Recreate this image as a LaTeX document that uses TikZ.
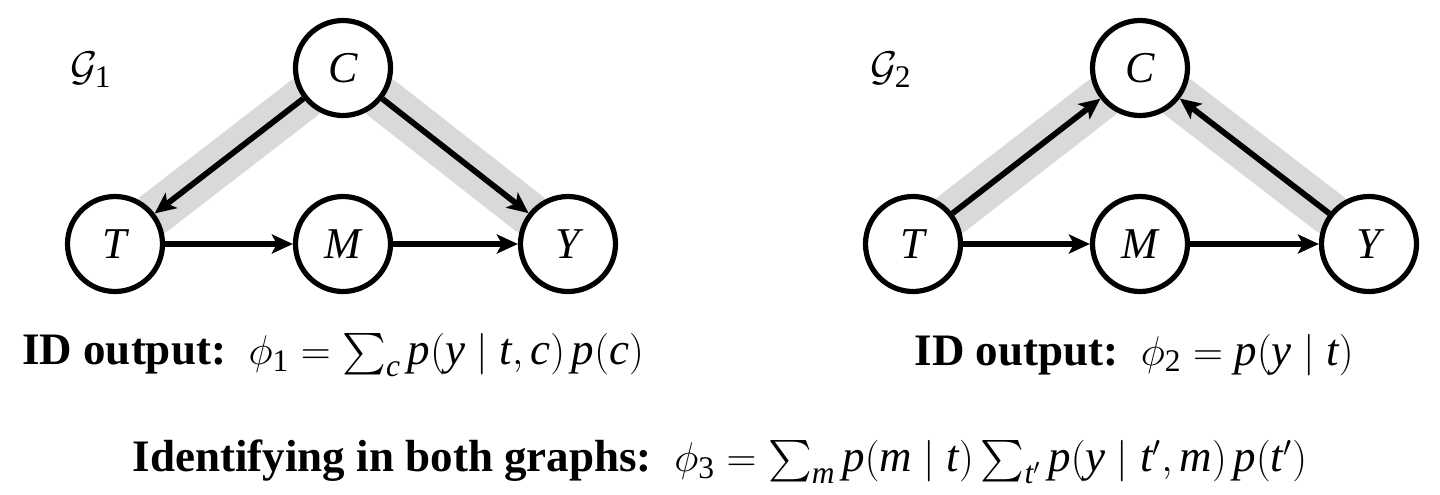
\documentclass[tikz,border=0pt]{standalone}
\usepackage{amsmath}
\usepackage[no-math]{fontspec}
\setmainfont{Liberation Serif}[BoldFont={Liberation Serif Bold}]
\newfontfamily\timesit{Liberation Serif Italic}
\usetikzlibrary{arrows.meta}
\pgfdeclarelayer{background}
\pgfsetlayers{background,main}
\newcommand{\vv}[1]{\text{\timesit #1}}
\begin{document}
\begin{tikzpicture}[x=0.5pt,y=-0.5pt,
  var/.style={circle,draw=black,fill=white,line width=2.6pt,minimum size=47.5pt,inner sep=0pt,font=\fontsize{22}{26}\selectfont},
  edge/.style={line width=2.9pt,-{Stealth[length=10.5pt,width=9.5pt,inset=2.5pt]}},
  band/.style={line width=22pt,line cap=round,draw=black!15},
  lbl/.style={font=\fontsize{22.5}{26}\selectfont,inner sep=0pt}]
\useasboundingbox (0,0) rectangle (1440,494);
% graph 1
\node[var] (C1) at (343,68) {\timesit C};
\node[var] (T1) at (115,244) {\timesit T};
\node[var] (M1) at (343,244) {\timesit M};
\node[var] (Y1) at (568,244) {\timesit Y};
\node[lbl] (G1) at (91,70) {$\mathcal{G}_{\text{1}}$};
% graph 2
\node[var] (C2) at (1140,68) {\timesit C};
\node[var] (T2) at (913,244) {\timesit T};
\node[var] (M2) at (1140,244) {\timesit M};
\node[var] (Y2) at (1369,244) {\timesit Y};
\node[lbl] (G2) at (891,70) {$\mathcal{G}_{\text{2}}$};
\begin{pgfonlayer}{background}
\draw[band] (C1) -- (T1);
\draw[band] (C1) -- (Y1);
\draw[band] (T2) -- (C2);
\draw[band] (Y2) -- (C2);
\end{pgfonlayer}
\draw[edge] (C1) -- (T1);
\draw[edge] (C1) -- (Y1);
\draw[edge] (T1) -- (M1);
\draw[edge] (M1) -- (Y1);
\draw[edge] (T2) -- (C2);
\draw[edge] (Y2) -- (C2);
\draw[edge] (T2) -- (M2);
\draw[edge] (M2) -- (Y2);
% texts
\node[lbl] (o1) at (333,355) {\textbf{ID output:}\ \ $\phi_{\text{1}} = \textstyle\sum_{\vv{c}} \vv{p}(\vv{y} \mid \vv{t}, \vv{c})\, \vv{p}(\vv{c})$};
\node[lbl] (o2) at (1134,355) {\textbf{ID output:}\ \ $\phi_{\text{2}} = \vv{p}(\vv{y} \mid \vv{t})$};
\node[lbl] (o3) at (720,462) {\textbf{Identifying in both graphs:}\ \ $\phi_{\text{3}} = \textstyle\sum_{\vv{m}} \vv{p}(\vv{m} \mid \vv{t}) \sum_{\vv{t}'} \vv{p}(\vv{y} \mid \vv{t}', \vv{m})\, \vv{p}(\vv{t}')$};
\end{tikzpicture}
\end{document}
